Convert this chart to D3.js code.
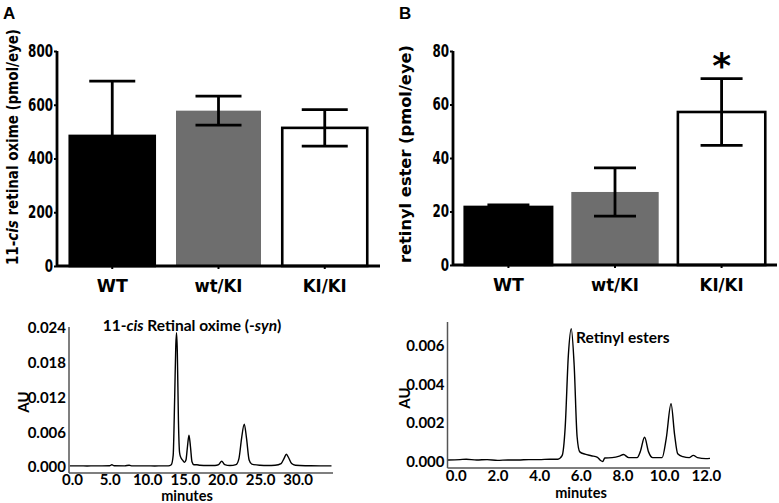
<!DOCTYPE html>
<html><head><meta charset="utf-8">
<script src="https://cdn.jsdelivr.net/npm/d3@7"></script>
<style>
body{margin:0;background:#fff;}
svg{display:block;}
</style></head>
<body>
<svg id="c" width="779" height="503"></svg>
<script>
// ---- data ----
const categories = ["WT", "wt/KI", "KI/KI"];
const oximeMean = [484, 578, 514];
const oximeErr = [204, 54, 68];
const esterMean = [21.7, 27.3, 57.2];
const esterErr = [0.8, 9.0, 12.5];
const barFills = ["#000000", "#6e6e6e", "#ffffff"];
const oximeTicks = [0, 200, 400, 600, 800];
const esterTicks = [0, 20, 40, 60, 80];

const chromA = [[-0.3,0.0002],[1,0.0002],[2,0.00018],[3,0.0002],[4,0.0002],[5,0.00022],[5.3,0.0004],[5.6,0.00022],[7,0.0002],[7.6,0.0003],[8,0.0002],[9,0.0002],[10,0.0002],[11,0.00018],[12,0.0002],[12.8,0.0002],[13.2,0.0004],[13.45,0.002],[13.65,0.012],[13.8,0.021],[13.9,0.0232],[14.0,0.02],[14.15,0.008],[14.3,0.0025],[14.45,0.0017],[14.7,0.0012],[14.95,0.0008],[15.15,0.0012],[15.35,0.0035],[15.55,0.0055],[15.75,0.0035],[15.95,0.0009],[16.2,0.0004],[16.6,0.0004],[17,0.0003],[18,0.00025],[19,0.00025],[19.5,0.0004],[19.9,0.001],[20.3,0.0004],[21,0.00025],[21.8,0.0004],[22.2,0.0015],[22.55,0.005],[22.9,0.0074],[23.2,0.005],[23.55,0.0012],[23.9,0.0005],[25,0.0003],[26,0.00025],[27,0.0003],[27.8,0.0006],[28.2,0.0015],[28.5,0.0022],[28.8,0.0016],[29.2,0.0006],[29.7,0.0003],[31,0.00022],[33,0.0002],[34.5,0.0002]];
const chromB = [[-0.4,0.00008],[0.2,0.0001],[0.5,0.00012],[1,0.00008],[1.5,0.0001],[2,0.00006],[2.5,0.00008],[3,0.00008],[3.5,0.0001],[4,0.0001],[4.5,0.00012],[4.9,0.00012],[5.1,0.0003],[5.25,0.0018],[5.4,0.0055],[5.54,0.0069],[5.68,0.005],[5.82,0.0013],[5.95,0.0005],[6.2,0.00038],[6.5,0.0003],[6.8,0.00022],[6.95,0.00005],[7.05,0.0],[7.15,0.00018],[7.5,0.0002],[7.85,0.00028],[8.05,0.00036],[8.3,0.0002],[8.7,0.0002],[8.85,0.0005],[9.06,0.00126],[9.25,0.0005],[9.45,0.0002],[9.9,0.0002],[10.1,0.0012],[10.33,0.003],[10.5,0.0014],[10.65,0.0004],[10.9,0.00025],[11.2,0.0002],[11.4,0.00032],[11.6,0.0002],[12,0.00015],[12.2,0.00016]];
const chromATicksX = [0, 5, 10, 15, 20, 25, 30];
const chromATicksY = [0, 0.006, 0.012, 0.018, 0.024];
const chromBTicksX = [0, 2, 4, 6, 8, 10, 12];
const chromBTicksY = [0, 0.002, 0.004, 0.006];

const svg = d3.select("#c");
const BF = "'DejaVu Sans',Verdana,sans-serif";
const CF = "Lato,'Open Sans',sans-serif";

function barPanel(o) {
  const g = svg.append("g");
  const x = d3.scaleBand().domain(categories).range([o.x0, o.x1]).paddingInner(o.pad).paddingOuter(o.pad/2+0.02);
  const y = d3.scaleLinear().domain([0, o.max]).range([o.yb, o.yt]);
  g.selectAll("rect.bar").data(categories).join("rect")
    .attr("x", d => x(d)).attr("width", x.bandwidth())
    .attr("y", (d,i) => y(o.mean[i])).attr("height", (d,i) => y(0) - y(o.mean[i]))
    .attr("fill", (d,i) => barFills[i])
    .attr("stroke", (d,i) => i === 1 ? "none" : "#000").attr("stroke-width", 2.6);
  categories.forEach((c,i) => {
    const cx = x(c) + x.bandwidth()/2;
    const top = y(o.mean[i] + o.err[i]), bot = y(o.mean[i] - o.err[i]);
    g.append("line").attr("x1", cx).attr("x2", cx).attr("y1", top).attr("y2", bot).attr("stroke","#000").attr("stroke-width",2.8);
    [top, bot].forEach(yy => g.append("line").attr("x1", cx - o.cap/2).attr("x2", cx + o.cap/2).attr("y1", yy).attr("y2", yy).attr("stroke","#000").attr("stroke-width",2.8));
  });
  const ya = g.append("g").attr("transform", `translate(${o.x0},0)`)
    .call(d3.axisLeft(y).tickValues(o.ticks).tickSize(3).tickPadding(1));
  ya.select(".domain").attr("stroke-width", 2.8).attr("d", `M0,${y(0)}V${o.yt}`);
  ya.selectAll(".tick line").attr("stroke-width", 2);
  ya.selectAll("text").attr("font-family", BF).attr("font-weight", "bold").attr("font-size", 17).attr("fill","#000")
    .attr("textLength", d => String(d).length * 8.3).attr("lengthAdjust", "spacingAndGlyphs");
  const xa = g.append("g").attr("transform", `translate(0,${y(0)})`)
    .call(d3.axisBottom(x).tickSize(3).tickPadding(10));
  xa.select(".domain").attr("stroke-width", 2.8).attr("d", `M${o.x0},0H${o.x1}`);
  xa.selectAll(".tick line").attr("stroke-width", 2);
  const lens = {"WT": 31, "wt/KI": 48, "KI/KI": 44};
  xa.selectAll("text").attr("font-family", BF).attr("font-weight", "bold").attr("font-size", 18).attr("fill","#000")
    .attr("textLength", d => lens[d]).attr("lengthAdjust", "spacingAndGlyphs");
  const t = g.append("text").attr("transform", `translate(${o.lx},${o.ly}) rotate(-90)`)
    .attr("text-anchor","middle").attr("font-family", BF).attr("font-weight","bold").attr("font-size", 16.5)
    .attr("textLength", o.llen).attr("lengthAdjust","spacingAndGlyphs");
  o.label.forEach(p => t.append("tspan").attr("font-style", p[1] ? "italic" : "normal").text(p[0]));
  svg.append("text").attr("x", o.px).attr("y", 19).attr("font-family","'Liberation Sans',Arial,sans-serif")
    .attr("font-weight","bold").attr("font-size",17).text(o.letter);
  return {x, y, g};
}

barPanel({x0:57, x1:380, yb:266, yt:51, max:800, pad:0.2, cap:46, mean:oximeMean, err:oximeErr, ticks:oximeTicks,
  lx:18, ly:147, llen:236, label:[["11-",0],["cis",1],[" retinal oxime (pmol/eye)",0]], letter:"A", px:3});
const pb = barPanel({x0:453, x1:777, yb:265, yt:51, max:80, pad:0.18, cap:42, mean:esterMean, err:esterErr, ticks:esterTicks,
  lx:411, ly:154, llen:218, label:[["retinyl ester (pmol/eye)",0]], letter:"B", px:399});
pb.g.append("text").attr("x", pb.x("KI/KI") + pb.x.bandwidth()/2).attr("y", 78)
  .attr("text-anchor","middle").attr("font-family","'DejaVu Sans',sans-serif").attr("font-weight","bold").attr("font-size",36).text("*");

function chromPanel(o) {
  const g = svg.append("g");
  const x = d3.scaleLinear().domain(o.xd).range([o.xl, o.xr]);
  const y = d3.scaleLinear().domain([0, o.ymax]).range([o.y0, o.ytop]);
  g.append("path").datum(o.data).attr("fill","none").attr("stroke","#000").attr("stroke-width",1.4)
    .attr("d", d3.line().x(d => x(d[0])).y(d => y(d[1])).curve(d3.curveMonotoneX));
  const ya = g.append("g").attr("transform", `translate(${o.xl},0)`)
    .call(d3.axisLeft(y).tickValues(o.yt).tickFormat(d3.format(".3f")).tickSize(0).tickPadding(3));
  ya.select(".domain").attr("stroke","#555").attr("stroke-width",1.5).attr("d", `M0,${o.axTop}V${o.axBot}`);
  ya.selectAll("text").attr("font-family", CF).attr("font-weight","bold").attr("font-size",15).attr("fill","#000");
  const xa = g.append("g").attr("transform", `translate(0,${o.axBot})`)
    .call(d3.axisBottom(x).tickValues(o.xt).tickFormat(d3.format(".1f")).tickSize(0).tickPadding(o.xpad));
  xa.select(".domain").attr("stroke","#555").attr("stroke-width",1.5).attr("d", `M${o.xl},0H${o.xr}`);
  xa.selectAll("text").attr("font-family", CF).attr("font-weight","bold").attr("font-size",15).attr("fill","#000");
  g.append("text").attr("x", o.mx).attr("y", o.my).attr("text-anchor","middle").attr("font-family",CF)
    .attr("font-weight","bold").attr("font-size",14.5).text("minutes");
  g.append("text").attr("transform", `translate(${o.ax},${o.ay}) rotate(-90)`).attr("text-anchor","middle")
    .attr("font-family",CF).attr("font-weight","bold").attr("font-size",15).text("AU");
  const t = g.append("text").attr("x", o.tx).attr("y", o.ty).attr("text-anchor", o.tanchor).attr("font-family",CF)
    .attr("font-weight","bold").attr("font-size",15.5);
  o.title.forEach(p => t.append("tspan").attr("font-style", p[1] ? "italic" : "normal").text(p[0]));
}

chromPanel({data: chromA, xd:[-0.4, 34.7], xl:69, xr:333, ymax:0.024, y0:467, ytop:328, axTop:327, axBot:473, xpad:1,
  xt: chromATicksX, yt: chromATicksY, mx:187, my:501, ax:29, ay:402,
  tx:192, ty:331, tanchor:"middle", title:[["11-",0],["cis",1],[" Retinal oxime (-",0],["syn",1],[")",0]]});
chromPanel({data: chromB, xd:[-0.4, 12.2], xl:447.5, xr:710, ymax:0.006, y0:461.5, ytop:346, axTop:322, axBot:468, xpad:2,
  xt: chromBTicksX, yt: chromBTicksY, mx:581, my:498, ax:410, ay:398,
  tx:576, ty:343, tanchor:"start", title:[["Retinyl esters",0]]});
</script>
</body></html>
